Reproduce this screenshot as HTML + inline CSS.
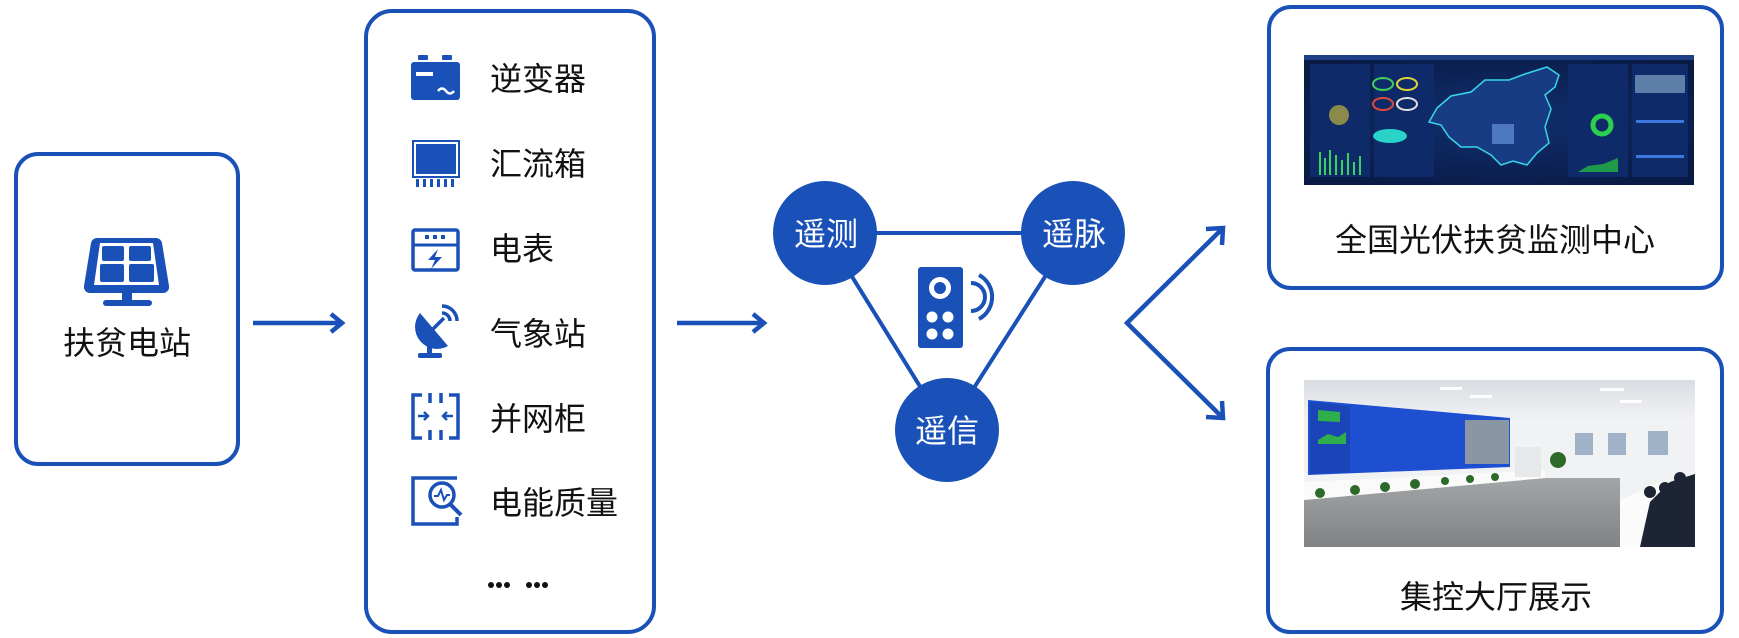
<!DOCTYPE html>
<html><head><meta charset="utf-8"><style>
html,body{margin:0;padding:0;background:#fff;}
svg{display:block;}
text{font-family:"Liberation Sans","Noto Sans CJK SC",sans-serif;}
</style></head><body>
<svg width="1739" height="638" viewBox="0 0 1739 638" xmlns="http://www.w3.org/2000/svg">
<defs>
<linearGradient id="floor" x1="0" y1="0" x2="0" y2="1"><stop offset="0" stop-color="#a3a5a7"/><stop offset="1" stop-color="#808385"/></linearGradient>
<linearGradient id="ceil" x1="0" y1="0" x2="0" y2="1"><stop offset="0" stop-color="#d9dde2"/><stop offset="1" stop-color="#f2f3f5"/></linearGradient>
<radialGradient id="dash" cx="0.5" cy="0.5" r="0.6"><stop offset="0" stop-color="#123071"/><stop offset="1" stop-color="#091a45"/></radialGradient>
</defs>
<g fill="none" stroke="#1a51b8" stroke-width="4">
<rect x="16" y="154" width="222" height="310" rx="22"/>
<rect x="366" y="11" width="288" height="621" rx="26"/>
<rect x="1269" y="7" width="453" height="281" rx="22"/>
<rect x="1268" y="349" width="454" height="283" rx="22"/>
</g>
<g stroke="#1a51b8" stroke-width="4.5" fill="none">
<line x1="253" y1="323" x2="342" y2="323"/><polyline points="331,314 342,323 331,332"/>
<line x1="677" y1="323" x2="764" y2="323"/><polyline points="753,314 764,323 753,332"/>
<polyline points="1223,228 1127,323 1223,418"/>
<polyline points="1206,229 1223,228 1222,245"/>
<polyline points="1206,417 1223,418 1222,401"/>
</g>
<g fill="#1a51b8">
<path d="M97,238 h59 a6,6 0 0 1 6,5 l7,43 a6,6 0 0 1 -6,7 h-73 a6,6 0 0 1 -6,-7 l7,-43 a6,6 0 0 1 6,-5z"/>
<rect x="122" y="293" width="10" height="8"/>
<rect x="103" y="300" width="49" height="6" rx="3"/>
</g>
<g fill="#fff"><path d="M100,243 h53 l6,42 h-65z"/></g>
<g fill="#1a51b8">
<rect x="102" y="246" width="22" height="15" rx="2"/><rect x="129" y="246" width="22" height="15" rx="2"/>
<rect x="100" y="264" width="24" height="18" rx="2"/><rect x="129" y="264" width="25" height="18" rx="2"/>
</g>
<text x="127" y="354" font-size="32" text-anchor="middle" fill="#111">扶贫电站</text>
<g fill="#1a51b8">
<rect x="418" y="55" width="10" height="5" rx="1"/><rect x="442" y="55" width="10" height="5" rx="1"/>
<rect x="411" y="62" width="49" height="38" rx="3"/>
</g>
<rect x="416" y="72" width="17" height="4" fill="#fff"/>
<path d="M438,91 q4,-5 8,0 t8,0" stroke="#fff" stroke-width="2.5" fill="none"/>
<rect x="413" y="141" width="46" height="36" fill="#fff" stroke="#1a51b8" stroke-width="2"/>
<rect x="416" y="144" width="40" height="30" fill="#1a51b8"/>
<g fill="#1a51b8"><rect x="416" y="179" width="3" height="8"/><rect x="423" y="179" width="3" height="8"/><rect x="430" y="179" width="3" height="8"/><rect x="437" y="179" width="3" height="8"/><rect x="444" y="179" width="3" height="8"/><rect x="451" y="179" width="3" height="8"/></g>
<rect x="413" y="230" width="45" height="40" rx="2" fill="none" stroke="#1a51b8" stroke-width="3.5"/>
<line x1="413" y1="245" x2="458" y2="245" stroke="#1a51b8" stroke-width="3"/>
<g fill="#1a51b8"><rect x="425" y="235" width="4" height="4"/><rect x="433" y="235" width="4" height="4"/><rect x="441" y="235" width="4" height="4"/>
<path d="M438,249 l-10,11 h7 l-4,9 l11,-12 h-7 z"/></g>
<g fill="#1a51b8">
<path d="M420,313 a22,22 0 0 0 28,33 z"/>
<rect x="427" y="345" width="5" height="9"/><rect x="418" y="353" width="24" height="5" rx="2"/>
</g>
<line x1="432" y1="330" x2="444" y2="318" stroke="#1a51b8" stroke-width="3.5"/>
<path d="M442,313 a8,8 0 0 1 8,8 M442,306 a15,15 0 0 1 15,15" stroke="#1a51b8" stroke-width="3.5" fill="none"/>
<g stroke="#1a51b8" stroke-width="3.5" fill="none">
<polyline points="422,395 413,395 413,438 422,438"/>
<polyline points="449,395 458,395 458,438 449,438"/>
<line x1="430" y1="393" x2="430" y2="403"/><line x1="430" y1="430" x2="430" y2="440"/>
<line x1="441" y1="393" x2="441" y2="403"/><line x1="441" y1="430" x2="441" y2="440"/>
</g>
<g stroke="#1a51b8" stroke-width="2.5" fill="none">
<line x1="418" y1="416" x2="428" y2="416"/><polyline points="424,412 428,416 424,420"/>
<line x1="443" y1="416" x2="453" y2="416"/><polyline points="447,412 443,416 447,420"/>
</g>
<g stroke="#1a51b8" stroke-width="3.5" fill="none">
<polyline points="457,478 413,478 413,524 457,524 457,517"/>
<circle cx="442" cy="495" r="12"/>
<line x1="450" y1="504" x2="461" y2="515" stroke-width="4"/>
<polyline points="434,496 438,496 441,490 444,500 447,495 450,495" stroke-width="2"/>
</g>
<g font-size="32" fill="#111">
<text x="490" y="90">逆变器</text>
<text x="490" y="175">汇流箱</text>
<text x="490" y="260">电表</text>
<text x="490" y="345">气象站</text>
<text x="490" y="430">并网柜</text>
<text x="490" y="514">电能质量</text>
</g>
<g fill="#111"><circle cx="491" cy="585" r="3"/><circle cx="499" cy="585" r="3"/><circle cx="507" cy="585" r="3"/><circle cx="529" cy="585" r="3"/><circle cx="537" cy="585" r="3"/><circle cx="545" cy="585" r="3"/></g>
<g stroke="#1a51b8" stroke-width="4"><line x1="825" y1="233" x2="1073" y2="233"/><line x1="825" y1="233" x2="947" y2="430"/><line x1="1073" y1="233" x2="947" y2="430"/></g>
<g fill="#1a51b8"><circle cx="825" cy="233" r="52"/><circle cx="1073" cy="233" r="52"/><circle cx="947" cy="430" r="52"/></g>
<g font-size="32" fill="#fff" text-anchor="middle"><text x="826" y="245">遥测</text><text x="1074" y="245">遥脉</text><text x="947" y="442">遥信</text></g>
<rect x="918" y="267" width="45" height="81" rx="3" fill="#1a51b8"/>
<circle cx="940" cy="288" r="11" fill="#fff"/><circle cx="940" cy="288" r="6" fill="#1a51b8"/>
<g fill="#fff"><circle cx="932" cy="317" r="5.5"/><circle cx="948" cy="317" r="5.5"/><circle cx="932" cy="334" r="5.5"/><circle cx="948" cy="334" r="5.5"/></g>
<path d="M971,283 a14,14 0 0 1 0,28 M979,275 a25,25 0 0 1 0,44" stroke="#1a51b8" stroke-width="4" fill="none"/>
<!-- dashboard image -->
<rect x="1304" y="55" width="390" height="130" fill="url(#dash)"/>
<rect x="1304" y="55" width="390" height="5" fill="#1c3f85"/>
<rect x="1310" y="64" width="60" height="113" fill="#0f2a68"/>
<rect x="1374" y="64" width="60" height="113" fill="#0f2a68"/>
<rect x="1568" y="64" width="60" height="113" fill="#0f2a68"/>
<rect x="1632" y="64" width="56" height="113" fill="#0f2a68"/>
<path d="M1437,108 l14,-12 l20,-4 l14,-12 l24,0 l16,-6 l22,-7 l12,8 l-4,12 l-10,8 l6,14 l-6,18 l4,16 l-12,10 l-10,12 l-14,-4 l-12,4 l-10,-10 l-14,-8 l-16,0 l-12,-10 l-8,-12 l-12,-3 z" fill="#173c84" stroke="#38d6e6" stroke-width="1.5"/>
<rect x="1492" y="124" width="22" height="20" fill="#4e79c2"/>
<ellipse cx="1390" cy="136" rx="17" ry="7" fill="#29d3c9"/>
<g fill="none" stroke-width="2"><ellipse cx="1383" cy="84" rx="10" ry="6" stroke="#3ad15c"/><ellipse cx="1407" cy="84" rx="10" ry="6" stroke="#e0d33a"/><ellipse cx="1383" cy="104" rx="10" ry="6" stroke="#e04a3a"/><ellipse cx="1407" cy="104" rx="10" ry="6" stroke="#e0e0e0"/></g>
<circle cx="1339" cy="115" r="10" fill="#8a8a4a"/>
<circle cx="1602" cy="125" r="9" fill="none" stroke="#2bd14e" stroke-width="5"/>
<g stroke="#3ad15c" stroke-width="2"><line x1="1320" y1="175" x2="1320" y2="152"/><line x1="1325" y1="175" x2="1325" y2="158"/><line x1="1330" y1="175" x2="1330" y2="150"/><line x1="1336" y1="175" x2="1336" y2="155"/><line x1="1342" y1="175" x2="1342" y2="160"/><line x1="1348" y1="175" x2="1348" y2="153"/><line x1="1354" y1="175" x2="1354" y2="162"/><line x1="1360" y1="175" x2="1360" y2="156"/></g>
<path d="M1578,172 l10,-6 l15,-2 l15,-6 v14z" fill="#1f9a4a"/>
<rect x="1635" y="75" width="50" height="18" fill="#5c7ea8"/>
<g fill="#3c78e0"><rect x="1636" y="120" width="48" height="3"/><rect x="1636" y="155" width="48" height="3"/></g>
<!-- control room image -->
<rect x="1304" y="380" width="391" height="167" fill="#f1f2f3"/>
<rect x="1304" y="380" width="391" height="42" fill="url(#ceil)"/>
<g fill="#fff"><rect x="1440" y="387" width="22" height="3"/><rect x="1470" y="395" width="22" height="3"/><rect x="1600" y="388" width="24" height="3"/><rect x="1620" y="400" width="22" height="3"/></g>
<path d="M1304,500 L1545,478 L1620,478 L1620,547 L1304,547z" fill="url(#floor)"/>
<path d="M1304,500 L1545,478 L1545,470 L1304,482z" fill="#fafafa"/>
<path d="M1308,400 L1510,418 L1510,467 L1308,475z" fill="#1e4fd0"/>
<path d="M1310,402 L1350,406 L1350,472 L1310,474z" fill="#1a44b8"/>
<path d="M1318,410 l22,2 v10 l-22,-1z" fill="#2fae4c"/>
<path d="M1318,440 l10,-6 l10,3 l8,-5 v12 h-28z" fill="#2fae4c"/>
<rect x="1465" y="420" width="44" height="44" fill="#8b96a4"/>
<rect x="1515" y="447" width="26" height="30" fill="#e6e8ea"/>
<rect x="1575" y="433" width="18" height="22" fill="#9fb2c8"/><rect x="1608" y="433" width="18" height="22" fill="#9fb2c8"/><rect x="1648" y="431" width="20" height="24" fill="#9fb2c8"/>
<path d="M1620,500 l40,-18 l35,0 v65 h-75z" fill="#fbfbfb"/>
<path d="M1640,547 l10,-45 l20,-20 l25,-8 v73z" fill="#1d2433"/>
<circle cx="1650" cy="492" r="6" fill="#1d2433"/><circle cx="1665" cy="488" r="6" fill="#1d2433"/><circle cx="1680" cy="478" r="6" fill="#1d2433"/>
<g fill="#2d6a2a"><circle cx="1320" cy="493" r="5"/><circle cx="1355" cy="490" r="5"/><circle cx="1385" cy="487" r="5"/><circle cx="1415" cy="484" r="5"/><circle cx="1445" cy="481" r="4"/><circle cx="1470" cy="479" r="4"/><circle cx="1495" cy="477" r="4"/><circle cx="1558" cy="460" r="8"/></g>
<text x="1495" y="251" font-size="32" text-anchor="middle" fill="#111">全国光伏扶贫监测中心</text>
<text x="1496" y="608" font-size="32" text-anchor="middle" fill="#111">集控大厅展示</text>
</svg>
</body></html>
